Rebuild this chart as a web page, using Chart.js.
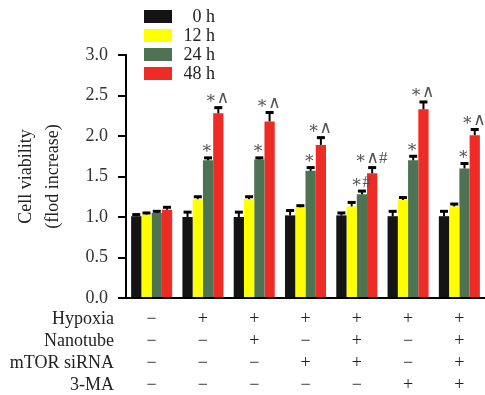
<!DOCTYPE html>
<html>
<head>
<meta charset="utf-8">
<script src="https://cdn.jsdelivr.net/npm/chart.js@4"></script>
<style>
  html, body { margin: 0; padding: 0; background: #fff; }
  #wrap { width: 485px; height: 395px; }
</style>
</head>
<body>
<div id="wrap"><canvas id="viability-chart"></canvas></div>
<script>
// groups (treatment combos), one +/- column each
const hypoxia   = ['−', '+', '+', '+', '+', '+', '+'];
const nanotube  = ['−', '−', '+', '−', '+', '−', '+'];
const mtorSirna = ['−', '−', '−', '+', '+', '−', '+'];
const ma3       = ['−', '−', '−', '−', '−', '+', '+'];
const rowNames  = ['Hypoxia', 'Nanotube', 'mTOR siRNA', '3-MA'];

const seriesNames = ['0 h', '12 h', '24 h', '48 h'];

const h0  = [1.01, 1.00, 1.00, 1.02, 1.02, 1.01, 1.01];
const h12 = [1.03, 1.22, 1.22, 1.12, 1.13, 1.21, 1.13];
const h24 = [1.05, 1.70, 1.71, 1.57, 1.28, 1.70, 1.60];
const h48 = [1.09, 2.28, 2.18, 1.89, 1.54, 2.33, 2.01];

const h0Err  = [0.02, 0.06, 0.06, 0.06, 0.03, 0.06, 0.06];
const h12Err = [0.02, 0.03, 0.03, 0.02, 0.05, 0.03, 0.03];
const h24Err = [0.02, 0.03, 0.02, 0.04, 0.04, 0.05, 0.06];
const h48Err = [0.03, 0.07, 0.11, 0.09, 0.07, 0.09, 0.07];

// significance marks: * vs control, ^ vs 12 h, # vs hypoxia
const h24Marks = ['', '∗', '∗', '∗', '∗#', '∗', '∗'];
const h48Marks = ['', '∗∧', '∗∧', '∗∧', '∗∧#', '∗∧', '∗∧'];

const yTicks = [0, 0.5, 1.0, 1.5, 2.0, 2.5, 3.0];

const serif = "'Liberation Serif', 'DejaVu Serif', serif";
const labels = hypoxia.map((v, i) => [hypoxia[i], nanotube[i], mtorSirna[i], ma3[i]]);

// error bars (upper only) and significance marks
const extrasPlugin = {
  id: 'extras',
  afterDatasetsDraw(chart) {
    const ctx = chart.ctx;
    const y = chart.scales.y;
    chart.data.datasets.forEach((ds, i) => {
      const meta = chart.getDatasetMeta(i);
      meta.data.forEach((bar, j) => {
        const top = y.getPixelForValue(ds.data[j] + ds.errors[j]);
        ctx.save();
        ctx.strokeStyle = '#000';
        ctx.lineWidth = 2;
        ctx.beginPath();
        ctx.moveTo(bar.x, bar.y);
        ctx.lineTo(bar.x, top);
        ctx.stroke();
        ctx.lineWidth = 3;
        ctx.beginPath();
        ctx.moveTo(bar.x - 4, top);
        ctx.lineTo(bar.x + 4, top);
        ctx.stroke();
        const mark = ds.marks ? ds.marks[j] : '';
        if (mark) {
          ctx.fillStyle = '#555';
          ctx.font = '17px ' + serif;
          ctx.textAlign = 'center';
          ctx.textBaseline = 'middle';
          ctx.fillText(mark, bar.x - 1, top - 9);
        }
        ctx.restore();
      });
    });
  },
  afterDraw(chart) {
    const ctx = chart.ctx;
    const x = chart.scales.x;
    ctx.save();
    // legend
    ctx.font = '18px ' + serif;
    ctx.textBaseline = 'middle';
    chart.data.datasets.forEach((ds, i) => {
      const rowY = 10 + i * 19;
      ctx.fillStyle = ds.backgroundColor;
      ctx.fillRect(144, rowY, 28, 13);
      ctx.fillStyle = '#222';
      ctx.textAlign = 'right';
      ctx.fillText(ds.label, 215, rowY + 7);
    });
    // row names of the +/- table
    const lh = 22;
    ctx.textAlign = 'right';
    rowNames.forEach((name, i) => {
      ctx.fillText(name, 114, x.top + 10 + lh / 2 + i * lh);
    });
    ctx.restore();
  }
};

new Chart(document.getElementById('viability-chart'), {
  type: 'bar',
  data: {
    labels: labels,
    datasets: [
      { label: seriesNames[0], data: h0,  errors: h0Err,  backgroundColor: '#141414' },
      { label: seriesNames[1], data: h12, errors: h12Err, backgroundColor: '#ffff00' },
      { label: seriesNames[2], data: h24, errors: h24Err, marks: h24Marks, backgroundColor: '#4d7352' },
      { label: seriesNames[3], data: h48, errors: h48Err, marks: h48Marks, backgroundColor: '#ee2b25' },
    ],
  },
  options: {
    responsive: true,
    maintainAspectRatio: false,
    animation: false,
    layout: { padding: { top: 55, right: 0, left: 0, bottom: 0 } },
    datasets: { bar: { categoryPercentage: 0.8, barPercentage: 1.0, borderWidth: 0 } },
    plugins: { legend: { display: false }, tooltip: { enabled: false } },
    scales: {
      x: {
        grid: { display: true, drawOnChartArea: false, drawTicks: false },
        border: { display: true, color: '#000', width: 2 },
        ticks: {
          padding: 10,
          color: '#222',
          font: { family: serif, size: 18, lineHeight: 22 / 18 },
        },
        afterFit(scale) { scale.height = 97; },
      },
      y: {
        min: 0,
        max: 3,
        afterBuildTicks(scale) { scale.ticks = yTicks.map(v => ({ value: v })); },
        grid: { display: true, drawOnChartArea: false, drawTicks: true, tickLength: 8, color: '#000', lineWidth: 2 },
        border: { display: true, color: '#000', width: 2 },
        ticks: {
          padding: 10,
          color: '#333',
          font: { family: serif, size: 18 },
          callback: v => v.toFixed(1),
        },
        title: {
          display: true,
          text: ['Cell viability', '(flod increase)'],
          color: '#222',
          font: { family: serif, size: 18, lineHeight: 1.5 },
          padding: { top: 13, bottom: 0 },
        },
        afterFit(scale) { scale.width = 126; },
      },
    },
  },
  plugins: [extrasPlugin],
});
</script>
</body>
</html>
